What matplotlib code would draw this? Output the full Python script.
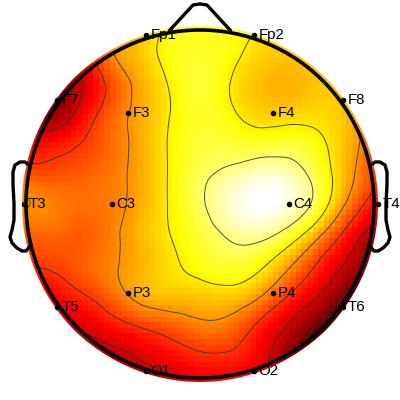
import numpy as np
import matplotlib
matplotlib.use('Agg')
import matplotlib.pyplot as plt
import matplotlib.tri as mtri
from matplotlib.patches import Circle

plt.rcParams['font.family'] = ['Liberation Sans', 'DejaVu Sans']

channels = ['Fp1', 'Fp2', 'F7', 'F3', 'F4', 'F8', 'T3', 'C3', 'C4', 'T4', 'T5', 'P3', 'P4', 'T6', 'O1', 'O2']
channel_x = [146, 254, 57, 128, 273, 343, 24, 112, 289, 378, 57, 128, 273, 343, 146, 254]
channel_y = [35, 35, 100, 113, 113, 100, 204, 204, 204, 204, 307, 293, 293, 307, 371, 371]

grid_x = [20, 50, 80, 110, 140, 170, 200, 230, 260, 290, 320, 350, 380]
grid_y = [24, 54, 84, 114, 144, 174, 204, 234, 264, 294, 324, 354, 384]
field = [
    [.40, .40, .45, .52, .62, .74, .77, .76, .72, .68, .64, .60, .50],
    [.30, .28, .36, .56, .66, .76, .79, .75, .68, .66, .64, .60, .50],
    [.25, .18, .28, .47, .62, .73, .80, .72, .65, .63, .66, .62, .50],
    [.25, .20, .34, .50, .62, .72, .79, .74, .68, .68, .69, .64, .50],
    [.35, .38, .44, .52, .62, .73, .80, .80, .79, .80, .74, .63, .45],
    [.50, .48, .50, .54, .62, .73, .83, .89, .94, .92, .79, .61, .43],
    [.60, .56, .53, .55, .62, .73, .84, .95, 1.0, .96, .79, .54, .36],
    [.50, .52, .50, .55, .64, .72, .80, .88, .90, .80, .60, .38, .22],
    [.44, .46, .50, .56, .63, .70, .76, .80, .75, .60, .42, .27, .12],
    [.32, .36, .43, .52, .62, .66, .67, .68, .60, .44, .30, .14, .05],
    [.28, .30, .32, .39, .46, .51, .56, .54, .42, .29, .15, .05, .03],
    [.25, .25, .26, .27, .32, .38, .43, .43, .35, .20, .08, .03, .03],
    [.20, .20, .20, .20, .22, .26, .33, .33, .28, .15, .06, .03, .03],
]
levels = [.16, .30, .44, .58, .72, .86]

nose_x = [170, 193, 200, 207, 230]
nose_y = [30, 5, 4, 5, 30]
ear_left_x = [29, 25, 20, 15, 13, 13, 14, 14, 12, 10, 12, 17, 22, 26, 31]
ear_right_x = [371, 375, 380, 385, 387, 387, 386, 386, 388, 390, 388, 383, 378, 374, 369]
ear_y = [165, 162, 162, 165, 172, 185, 203, 220, 230, 237, 243, 248, 251, 251, 245]

fig = plt.figure(figsize=(4, 4), dpi=100)
ax = fig.add_axes([0, 0, 1, 1])
ax.set_xlim(0, 400)
ax.set_ylim(400, 0)
ax.axis('off')

gx, gy = np.meshgrid(grid_x, grid_y)
tri = mtri.Triangulation(gx.ravel(), gy.ravel())
interp = mtri.CubicTriInterpolator(tri, np.array(field).ravel(), kind='min_E')

cx, cy = 200, 204
edges_x = np.linspace(20, 380, 65)
edges_y = np.linspace(24, 384, 65)
mid_x = (edges_x[:-1] + edges_x[1:]) / 2
mid_y = (edges_y[:-1] + edges_y[1:]) / 2
mx, my = np.meshgrid(mid_x, mid_y)
cells = interp(mx, my)

mesh = ax.pcolormesh(edges_x, edges_y, cells, cmap='hot', vmin=0, vmax=1, shading='flat', rasterized=True)
mesh.set_clip_path(Circle((cx, cy), 178, transform=ax.transData))

fx, fy = np.meshgrid(np.linspace(20, 380, 241), np.linspace(24, 384, 241))
cs = ax.contour(fx, fy, interp(fx, fy), levels=levels, colors='#333333', linewidths=0.7, alpha=0.85)
cs.set_clip_path(Circle((cx, cy), 176, transform=ax.transData))

ax.add_patch(Circle((cx, cy), 174, fill=False, edgecolor='black', linewidth=2.6, zorder=4))
ax.plot(nose_x, nose_y, color='black', linewidth=2.4, zorder=4, solid_joinstyle='round')
ax.plot(ear_left_x, ear_y, color='black', linewidth=2.4, zorder=4, solid_joinstyle='round')
ax.plot(ear_right_x, ear_y, color='black', linewidth=2.4, zorder=4, solid_joinstyle='round')

ax.scatter(channel_x, channel_y, s=16, color='black', zorder=5, linewidths=0, clip_on=False)
for name, x, y in zip(channels, channel_x, channel_y):
    ax.text(x + 4.5, y, name, fontsize=10.8, color='black', ha='left', va='center', zorder=6, clip_on=False)

fig.savefig('out.png', dpi=100, facecolor='white')
